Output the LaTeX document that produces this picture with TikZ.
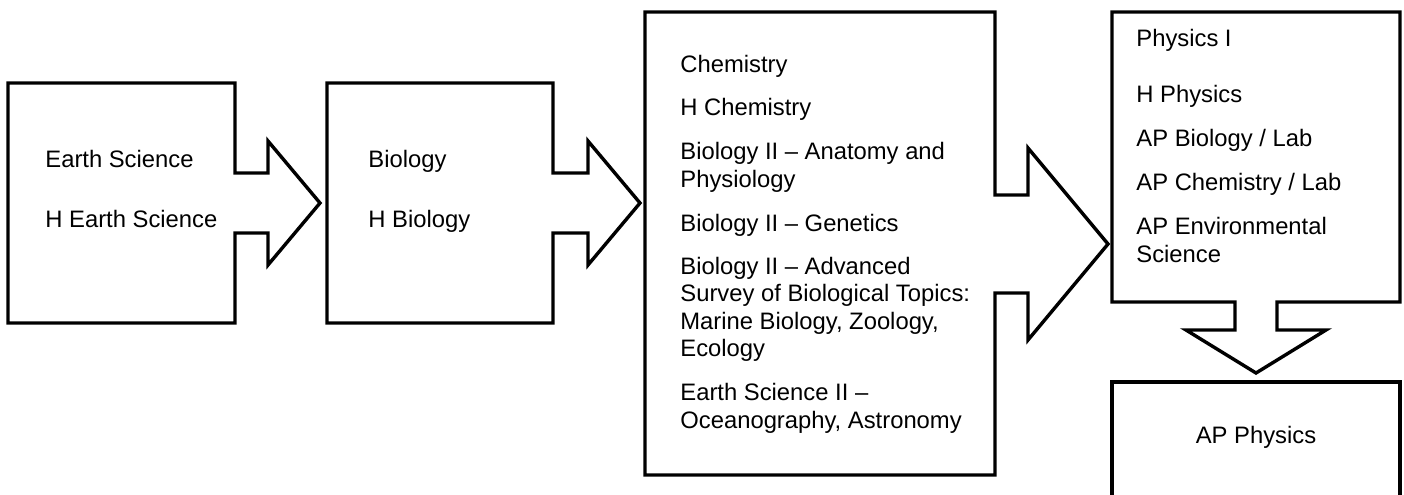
\documentclass[tikz,border=0pt]{standalone}
\usepackage{fontspec}
\setmainfont{Liberation Sans}
\usepackage{tikz}
\usetikzlibrary{positioning}
\tikzstyle{course}=[anchor=base west,align=left,inner sep=0pt,font=\fontsize{11.9}{13.7}\selectfont]
\tikzstyle{panel}=[draw,line width=1.7pt]

\begin{document}
\begin{tikzpicture}[x=0.5pt,y=-0.5pt]
\useasboundingbox (0,0) rectangle (1404,494);
\draw [panel] (8,83) -- (235,83) -- (235,173) -- (268,173) -- (268,141) -- (320,203)
	-- (268,265) -- (268,233) -- (235,233) -- (235,323) -- (8,323) -- cycle;
\draw [panel] (327,83) -- (553,83) -- (553,173) -- (588,173) -- (588,141) -- (640,203)
	-- (588,265) -- (588,233) -- (553,233) -- (553,323) -- (327,323) -- cycle;
\draw [panel] (645,12) -- (995,12) -- (995,195) -- (1028,195) -- (1028,148) -- (1108,244)
	-- (1028,340) -- (1028,293) -- (995,293) -- (995,475) -- (645,475) -- cycle;
\draw [panel] (1112,12) -- (1400,12) -- (1400,302) -- (1277,302) -- (1277,330) -- (1326,330)
	-- (1256,373) -- (1186,330) -- (1235,330) -- (1235,302) -- (1112,302) -- cycle;
\draw [panel] (1112,500) -- (1112,382) -- (1400,382) -- (1400,500);
\node [course] (earth) at (45,227) {Earth Science\\[16pt]H Earth Science};
\node [course] (bio) at (368,227) {Biology\\[16pt]H Biology};
\node [course] (chem) at (680,428) {Chemistry\\[8pt]H Chemistry\\[8.3pt]
	Biology II – Anatomy and\\Physiology\\[8.3pt]Biology II – Genetics\\[8pt]
	Biology II – Advanced\\Survey of Biological Topics:\\Marine Biology, Zoology,\\Ecology\\[8.3pt]
	Earth Science II –\\Oceanography, Astronomy};
\node [course] (phys) at (1136,262) {Physics I\\[14.3pt]H Physics\\[8.3pt]AP Biology / Lab\\[8.3pt]
	AP Chemistry / Lab\\[8.3pt]AP Environmental\\Science};
\node [course,anchor=base] (ap) at (1256,443) {AP Physics};
\end{tikzpicture}
\end{document}
